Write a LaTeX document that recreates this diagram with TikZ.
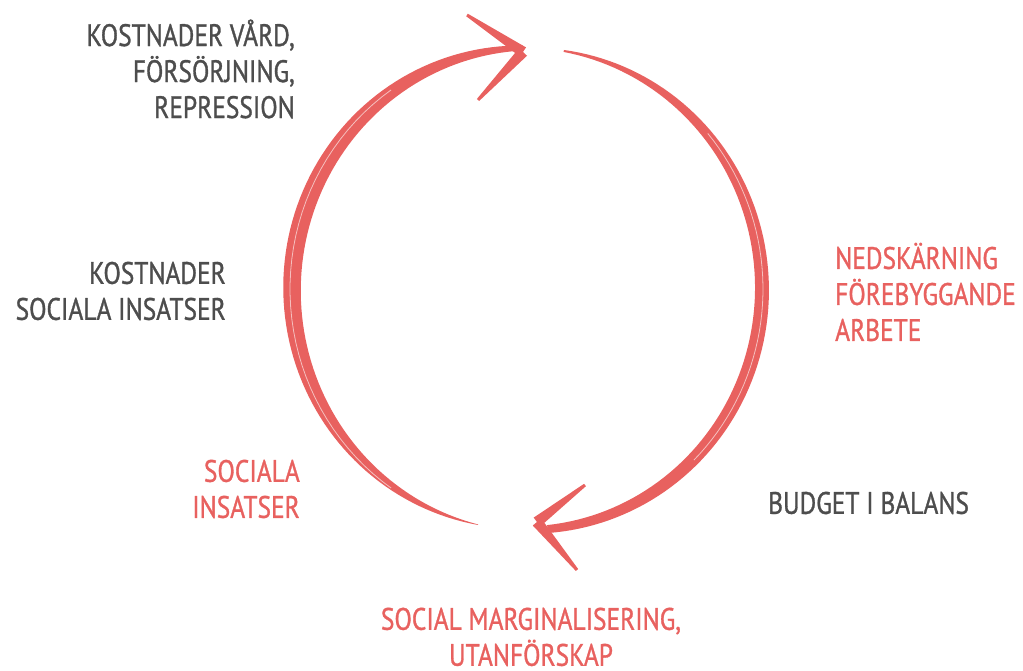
\documentclass[tikz,border=0pt]{standalone}
\usepackage{fontspec}
\setmainfont[FakeStretch=0.82, FakeBold=1]{PT Sans}
\usetikzlibrary{calc}
\definecolor{cyclered}{HTML}{E8615F}
\definecolor{labelgray}{HTML}{4D4D4D}

\begin{document}
\begin{tikzpicture}[x=1pt, y=1pt,
  declare function={leftw(\s)=0.5+4.5*\s+15*sin(180*\s); rightw(\s)=2+6*\s+9*sin(180*\s);},
  lbl/.style={inner sep=0pt, font=\fontsize{31}{36}\selectfont},
  greylabel/.style={lbl, text=labelgray},
  redlabel/.style={lbl, text=cyclered},
  streak/.style={white, line width=0.8pt, opacity=0.6}]
  \useasboundingbox (0,0) rectangle (1023,671);

  \fill[cyclered] plot[domain=258:91, samples=90, variable=\t]
      ({527+(235+leftw((258-\t)/167)/2)*cos(\t)}, {382+(241+leftw((258-\t)/167)/2)*sin(\t)})
    -- plot[domain=91:258, samples=90, variable=\t]
      ({527+(235-leftw((258-\t)/167)/2)*cos(\t)}, {382+(241-leftw((258-\t)/167)/2)*sin(\t)}) -- cycle;
  \fill[cyclered] plot[domain=81:-85, samples=90, variable=\t]
      ({527+(235+rightw((81-\t)/166)/2)*cos(\t)}, {382+(241+rightw((81-\t)/166)/2)*sin(\t)})
    -- plot[domain=-85:81, samples=90, variable=\t]
      ({527+(235-rightw((81-\t)/166)/2)*cos(\t)}, {382+(241-rightw((81-\t)/166)/2)*sin(\t)}) -- cycle;
  \draw[streak] plot[domain=235:125, samples=40, variable=\t] ({527+237*cos(\t)}, {382+243*sin(\t)});
  \draw[streak] plot[domain=40:-45, samples=40, variable=\t] ({527+236*cos(\t)}, {382+242*sin(\t)});

  \coordinate (toptip) at (523,619);
  \coordinate (topup) at (467,656);
  \coordinate (toplow) at (478,571);
  \coordinate (bottip) at (537,149);
  \coordinate (botup) at (585,186);
  \coordinate (botlow) at (577,101);
  \foreach \tip/\arm in {toptip/topup, toptip/toplow, bottip/botup, bottip/botlow}
    \fill[cyclered] ($(\tip)!5.5pt!90:(\arm)$) -- ($(\arm)!1.5pt!-90:(\tip)$)
      -- ($(\arm)!1.5pt!90:(\tip)$) -- ($(\tip)!5.5pt!-90:(\arm)$) -- cycle;

  \node (vard) [greylabel, anchor=east, align=right] at (295,602) {KOSTNADER VÅRD,\\FÖRSÖRJNING,\\REPRESSION};
  \node (kostnader) [greylabel, anchor=east, align=right] at (226,380) {KOSTNADER\\SOCIALA INSATSER};
  \node (insatser) [redlabel, anchor=east, align=right] at (300,182) {SOCIALA\\INSATSER};
  \node (nedskarning) [redlabel, anchor=west, align=left] at (835,379) {NEDSKÄRNING\\FÖREBYGGANDE\\ARBETE};
  \node (budget) [greylabel, anchor=west] at (768,168) {BUDGET I BALANS};
  \node (marginal) [redlabel, align=center, text depth=0pt, anchor=south] at (531,5) {SOCIAL MARGINALISERING,\\UTANFÖRSKAP};
\end{tikzpicture}
\end{document}
